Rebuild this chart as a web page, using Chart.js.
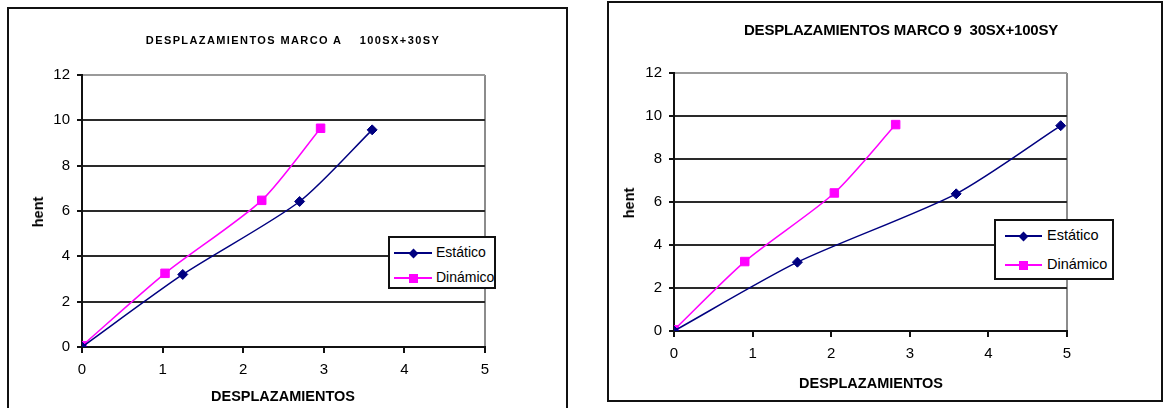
<!DOCTYPE html>
<html>
<head>
<meta charset="utf-8">
<script src="https://cdn.jsdelivr.net/npm/chart.js@4/dist/chart.umd.min.js"></script>
<style>
  body { margin: 0; width: 1163px; height: 408px; background: #fff; overflow: hidden; font-family: 'Liberation Sans', Arial, sans-serif; }
  .frame { position: absolute; border: 2px solid #111; box-sizing: border-box; }
  .chart-canvas { position: absolute; top: 0; }
  .txt { position: absolute; font-weight: bold; color: #000; white-space: pre; transform: translate(-50%, -50%); }
  .rot { transform: translate(-50%, -50%) rotate(-90deg); }
  .legend { position: absolute; background: #fff; border: 2px solid #111; box-sizing: border-box; font-size: 14px; }
  .legend .row { position: absolute; left: 0; height: 16px; }
  .legend .line { position: absolute; top: 7px; height: 2px; }
  .legend .mark { position: absolute; }
  .legend .label { position: absolute; top: -1px; }
</style>
</head>
<body>
<div class="frame" style="left:7px;top:7px;width:561px;height:420px;"></div>
<div class="frame" style="left:607px;top:1px;width:556px;height:401px;"></div>

<canvas id="chartA" class="chart-canvas" width="580" height="408" style="left:0;width:580px;height:408px;"></canvas>
<canvas id="chart9" class="chart-canvas" width="583" height="408" style="left:580px;width:583px;height:408px;"></canvas>

<div class="txt" style="left:293px;top:40px;font-size:11px;letter-spacing:1.4px;">DESPLAZAMIENTOS MARCO A    100SX+30SY</div>
<div class="txt rot" style="left:38px;top:212px;font-size:14.5px;">hent</div>
<div class="txt" style="left:283px;top:396px;font-size:14.5px;">DESPLAZAMIENTOS</div>

<div class="txt" style="left:901px;top:29px;font-size:15px;letter-spacing:-0.2px;">DESPLAZAMIENTOS MARCO 9  30SX+100SY</div>
<div class="txt rot" style="left:629px;top:203px;font-size:14.5px;">hent</div>
<div class="txt" style="left:871px;top:383px;font-size:14.5px;">DESPLAZAMIENTOS</div>

<div id="legendA" class="legend" style="left:388px;top:236px;width:108px;height:53px;"></div>
<div id="legend9" class="legend" style="left:994px;top:219px;width:120px;height:61px;font-size:14.5px;"></div>

<script>
// series names
const seriesNames = ['Estático', 'Dinámico'];
const seriesColors = ['#000080', '#ff00ff'];

// Marco A  100SX+30SY
const marcoA_estatico_x = [0, 1.25, 2.7, 3.6];
const marcoA_estatico_y = [0, 3.2, 6.42, 9.58];
const marcoA_dinamico_x = [0, 1.03, 2.23, 2.96];
const marcoA_dinamico_y = [0.05, 3.25, 6.47, 9.65];

// Marco 9  30SX+100SY
const marco9_estatico_x = [0, 1.57, 3.59, 4.92];
const marco9_estatico_y = [0, 3.2, 6.38, 9.55];
const marco9_dinamico_x = [0, 0.9, 2.04, 2.82];
const marco9_dinamico_y = [0.05, 3.23, 6.42, 9.6];

// axis ticks
const xTicks = [0, 1, 2, 3, 4, 5];
const yTicks = [0, 2, 4, 6, 8, 10, 12];

const toPoints = (xs, ys) => xs.map((x, i) => ({ x, y: ys[i] }));

const makeDataset = (index, xs, ys) => ({
  label: seriesNames[index],
  data: toPoints(xs, ys),
  borderColor: seriesColors[index],
  backgroundColor: seriesColors[index],
  borderWidth: 1.5,
  pointStyle: index === 0 ? 'rectRot' : 'rect',
  pointRadius: index === 0 ? 5 : 6,
  pointBorderWidth: 1,
  tension: 0.25,
});

const tickFont = { family: "'Liberation Sans', Arial, sans-serif", size: 15 };

const createChart = (id, datasets, pad) => {
  const ctx = document.getElementById(id).getContext('2d');
  return new Chart(ctx, {
    type: 'line',
    data: { datasets },
    options: {
      responsive: false,
      animation: false,
      layout: { padding: pad },
      plugins: { legend: { display: false }, title: { display: false }, tooltip: { enabled: false } },
      scales: {
        x: {
          type: 'linear',
          min: xTicks[0],
          max: xTicks[xTicks.length - 1],
          afterBuildTicks: (s) => { s.ticks = xTicks.map((v) => ({ value: v })); },
          afterFit: (s) => { s.height = 30; },
          ticks: { font: tickFont, color: '#000', padding: 8, maxRotation: 0 },
          grid: {
            color: (c) => (c.tick && c.tick.value === 5 ? '#8c8c8c' : 'transparent'),
            tickColor: '#111',
            tickLength: 6,
            lineWidth: 2,
          },
          border: { display: true, color: '#111', width: 2 },
        },
        y: {
          min: yTicks[0],
          max: yTicks[yTicks.length - 1],
          afterBuildTicks: (s) => { s.ticks = yTicks.map((v) => ({ value: v })); },
          afterFit: (s) => { s.width = 50; },
          ticks: { font: tickFont, color: '#000', padding: 7 },
          grid: {
            color: (c) => (c.tick && c.tick.value === 12 ? '#9a9a9a' : '#2a2a2a'),
            tickColor: '#111',
            tickLength: 5,
            lineWidth: 2,
          },
          border: { display: true, color: '#111', width: 2 },
        },
      },
    },
  });
};

createChart('chartA', [
  makeDataset(0, marcoA_estatico_x, marcoA_estatico_y),
  makeDataset(1, marcoA_dinamico_x, marcoA_dinamico_y),
], { left: 32, right: 95, top: 75, bottom: 31 });

createChart('chart9', [
  makeDataset(0, marco9_estatico_x, marco9_estatico_y),
  makeDataset(1, marco9_dinamico_x, marco9_dinamico_y),
], { left: 44, right: 96, top: 73, bottom: 47 });

// legend boxes
const buildLegend = ($box, rowTops, lineLeft, lineWidth, textLeft) => {
  seriesNames.forEach((name, i) => {
    const isDiamond = i === 0;
    const size = isDiamond ? 7 : 9;
    const markLeft = lineLeft + lineWidth / 2 - size / 2;
    const markTop = 8 - size / 2;
    const markStyle = isDiamond ? 'transform:rotate(45deg);' : '';
    $box.insertAdjacentHTML(
      'beforeend',
      `<div class="row" style="top:${rowTops[i]}px;width:100%;">
        <div class="line" style="left:${lineLeft}px;width:${lineWidth}px;background:${seriesColors[i]};"></div>
        <div class="mark" style="left:${markLeft}px;top:${markTop}px;width:${size}px;height:${size}px;background:${seriesColors[i]};${markStyle}"></div>
        <div class="label" style="left:${textLeft}px;">${name}</div>
      </div>`
    );
  });
};

buildLegend(document.querySelector('#legendA'), [7, 32], 4, 38, 46);
buildLegend(document.querySelector('#legend9'), [7, 36], 9, 37, 51);
</script>
</body>
</html>
